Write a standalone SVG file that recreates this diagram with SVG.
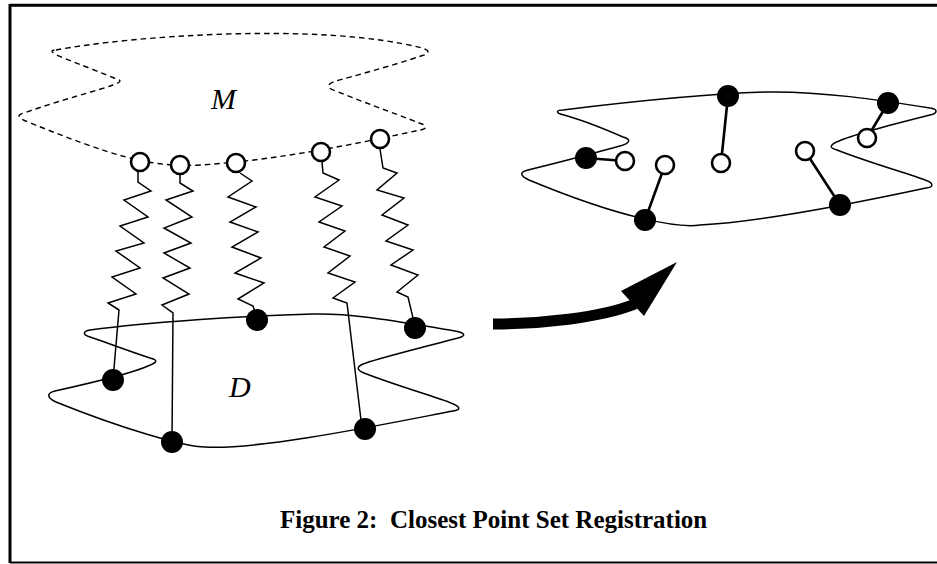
<svg xmlns="http://www.w3.org/2000/svg" width="937" height="564" viewBox="0 0 937 564">
  <style>
    .frame { stroke: #000; fill: none; }
    .outline { fill: none; stroke: #000; stroke-width: 1.5; stroke-linejoin: round; }
    .dashed { fill: none; stroke: #000; stroke-width: 1.4; stroke-dasharray: 5.5 4; }
    .open { fill: #fff; stroke: #000; stroke-width: 2.6; }
    .solid { fill: #000; stroke: none; }
    .spring { fill: none; stroke: #000; stroke-width: 1.5; stroke-linejoin: miter; }
    .link { fill: none; stroke: #000; stroke-width: 2.6; }
    .label { font-family: "Liberation Serif", "Times New Roman", serif; font-style: italic; font-size: 30px; fill: #000; }
    .caption { font-family: "Liberation Serif", "Times New Roman", serif; font-weight: bold; font-size: 25px; fill: #000; white-space: pre; }
  </style>

  <rect width="937" height="564" fill="#fff"/>

  <!-- page frame -->
  <g id="frame" class="frame">
    <line x1="10" y1="5.3" x2="937" y2="5.3" stroke-width="3"/>
    <line x1="10" y1="4" x2="10" y2="563" stroke-width="3"/>
    <line x1="10" y1="562.5" x2="937" y2="562.5" stroke-width="1.8"/>
  </g>

  <!-- model surface M (dashed) -->
  <g id="model-surface">
    <path class="dashed" d="M56,50 C130,36 320,22 422,48 C430,50 430,54 421,56 C395,65 350,77 336,81 C326,84 326,88 336,91 C370,105 405,117 419,123 C427,125 428,129 420,130 C360,143 280,160 200,165 C150,168 110,155 28,122 C18,118 16,115 24,113 C60,100 100,90 113,85 C122,82 122,80 114,78 C90,68 62,58 55,54 C50,51 52,50 56,50 Z"/>
    <text class="label" x="211" y="109">M</text>
  </g>

  <!-- data surface D -->
  <g id="data-surface">
    <path class="outline" d="M90,330 C150,322 240,316 313,314 C360,313 410,324 455,331 C466,333 466,336 458,338 C420,348 380,358 366,363 C356,366 356,370 364,373 C400,387 440,398 451,403 C461,407 461,410 453,411 C380,425 260,450 205,447 C185,447 120,428 56,402 C46,397 47,393 55,391 C100,381 135,372 148,366 C158,362 158,360 150,358 C120,348 100,340 90,337 C82,335 83,331 90,330 Z"/>
    <text class="label" x="229" y="397">D</text>
  </g>

  <!-- springs joining model points to data points -->
  <g id="springs">
    <polyline class="spring" points="138,171 138,182 151,191 124,200 148,217 120,226 144,243 116,251 140,268 112,277 136,294 108,303 119,310 113,380"/>
    <polyline class="spring" points="180,175 180,183 193,191 166,200 192,217 164,228 191,243 164,253 190,268 163,278 189,294 162,305 173,313 172,442"/>
    <polyline class="spring" points="240,173 252,181 228,197 256,207 230,222 258,232 232,247 261,258 235,273 264,283 238,299 253,306 257,318"/>
    <polyline class="spring" points="322,162 323,173 339,180 315,197 342,206 319,222 345,231 324,247 350,256 328,273 355,282 333,298 347,303 361,420"/>
    <polyline class="spring" points="380,149 383,168 397,173 377,190 404,198 382,215 408,225 386,241 413,250 391,265 418,275 397,292 408,297 414,322"/>
  </g>

  <!-- model points -->
  <g id="model-points">
    <circle class="open" cx="140" cy="162" r="9"/>
    <circle class="open" cx="180" cy="165" r="9"/>
    <circle class="open" cx="236" cy="163" r="9"/>
    <circle class="open" cx="321" cy="152" r="9"/>
    <circle class="open" cx="380" cy="139" r="9"/>
  </g>

  <!-- data points -->
  <g id="data-points">
    <circle class="solid" cx="113" cy="380" r="11"/>
    <circle class="solid" cx="172" cy="442" r="11"/>
    <circle class="solid" cx="257" cy="320" r="11"/>
    <circle class="solid" cx="365" cy="429" r="11"/>
    <circle class="solid" cx="415" cy="328" r="11"/>
  </g>

  <!-- transformation arrow -->
  <g id="arrow">
    <path d="M493,324 C540,324 600,318 635,304" fill="none" stroke="#000" stroke-width="11"/>
    <polygon points="677,262 621,291 644,316" fill="#000"/>
  </g>

  <!-- registered result -->
  <g id="registered">
    <path class="outline" d="M563,110 C620,103 700,94 767,92 C820,91 880,100 930,108 C938,109 938,113 930,115 C890,125 850,136 839,141 C829,145 829,148 837,150 C870,163 910,174 925,180 C934,183 934,187 926,188 C870,200 760,222 700,225 C680,228 625,220 529,180 C519,175 520,172 528,170 C570,160 605,150 620,146 C631,143 631,139 623,137 C600,127 575,118 564,115 C555,113 556,110 563,110 Z"/>
    <g id="pairs">
      <line class="link" x1="586" y1="158" x2="625" y2="161"/>
      <line class="link" x1="645" y1="220" x2="665" y2="165"/>
      <line class="link" x1="728" y1="96" x2="721" y2="163"/>
      <line class="link" x1="840" y1="205" x2="805" y2="151"/>
      <line class="link" x1="888" y1="103" x2="867" y2="138"/>
    </g>
    <circle class="solid" cx="586" cy="158" r="11"/>
    <circle class="solid" cx="645" cy="220" r="11"/>
    <circle class="solid" cx="728" cy="96" r="11"/>
    <circle class="solid" cx="840" cy="205" r="11"/>
    <circle class="solid" cx="888" cy="103" r="11"/>
    <circle class="open" cx="625" cy="161" r="9"/>
    <circle class="open" cx="665" cy="165" r="9"/>
    <circle class="open" cx="721" cy="163" r="9"/>
    <circle class="open" cx="805" cy="151" r="9"/>
    <circle class="open" cx="867" cy="138" r="9"/>
  </g>

  <text id="caption" class="caption" x="280" y="528">Figure 2:  Closest Point Set Registration</text>
</svg>
